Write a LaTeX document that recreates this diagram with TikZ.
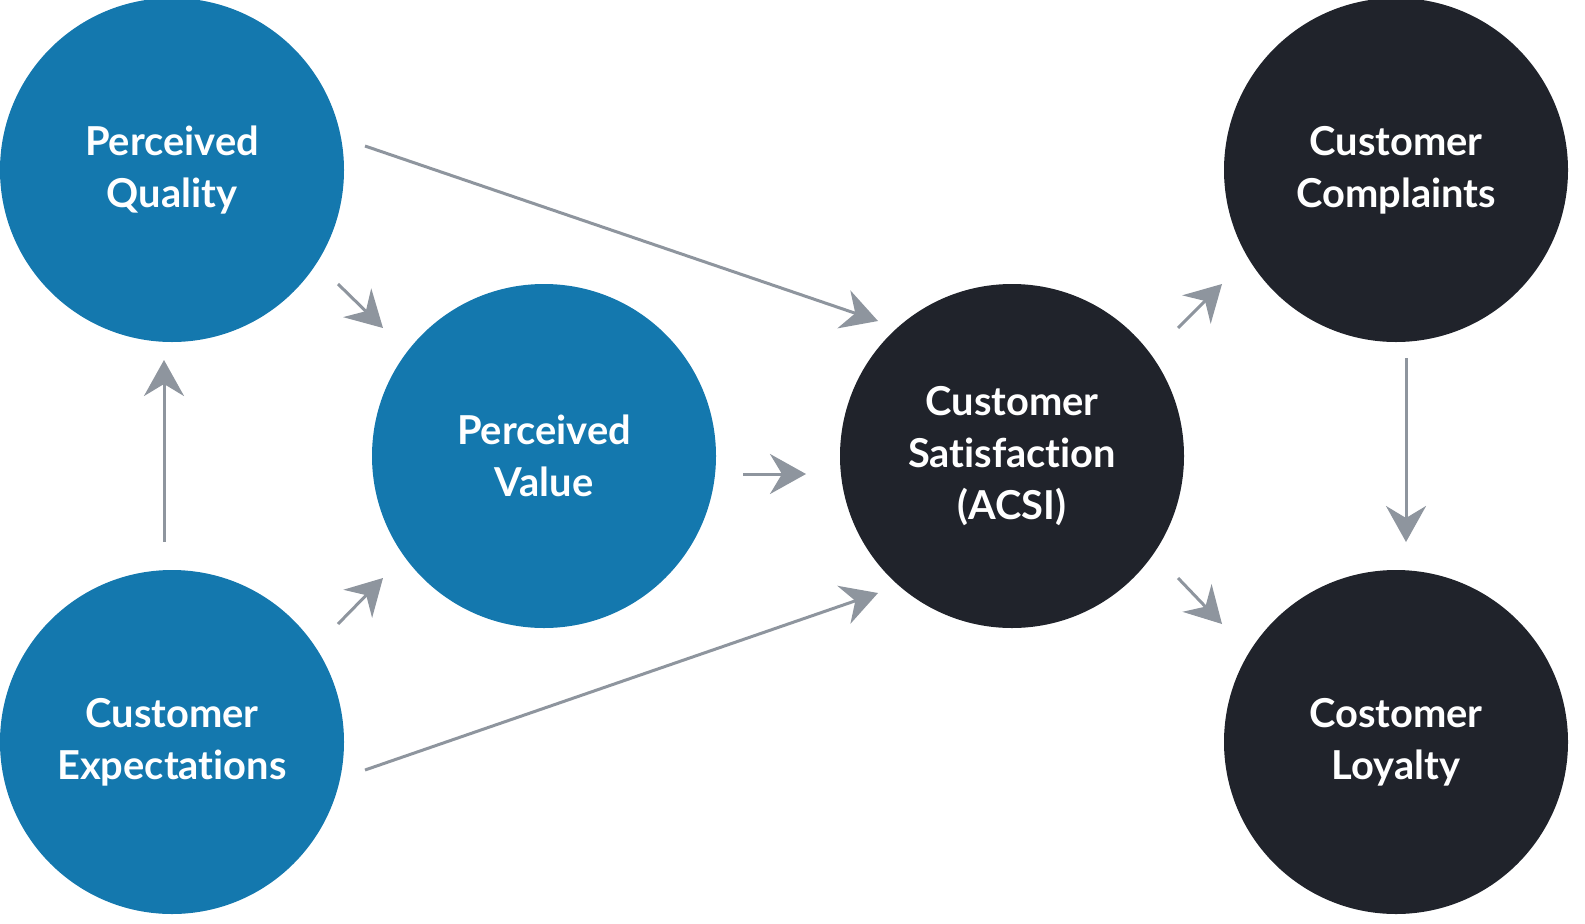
\documentclass[tikz,border=0pt]{standalone}
\usepackage{fontspec}
\setmainfont{Lato}[Ligatures=NoCommon]
\usetikzlibrary{arrows.meta}
\definecolor{cblue}{HTML}{1478AE}
\definecolor{cdark}{HTML}{20232B}
\definecolor{cgray}{HTML}{8E959E}
\begin{document}
\begin{tikzpicture}[x=1bp,y=-1bp,
  circ/.style={circle,minimum size=344bp,inner sep=0pt,text=white,align=center,
    font=\fontsize{40}{52}\selectfont\bfseries},
  blue/.style={circ,fill=cblue},
  dark/.style={circ,fill=cdark},
  arr/.style={draw=cgray,line width=3bp,-{Stealth[length=36bp,width=40bp,inset=12bp]}}]
\useasboundingbox (0,0) rectangle (1585,923);
\node[blue] (pq) at (172,170) {Perceived\\Quality};
\node[blue] (ce) at (172,742) {Customer\\Expectations};
\node[blue] (pv) at (544,456) {Perceived\\Value};
\node[dark] (cs) at (1012,456) {Customer\\Satisfaction\\(ACSI)};
\node[dark] (cc) at (1396,170) {Customer\\Complaints};
\node[dark] (cl) at (1396,742) {Costomer\\Loyalty};
\coordinate (a1) at (164,542); \coordinate (b1) at (164,360);
\coordinate (a2) at (338,284); \coordinate (b2) at (383,328);
\coordinate (a3) at (365,146); \coordinate (b3) at (878,321);
\coordinate (a4) at (338,624); \coordinate (b4) at (383,578);
\coordinate (a5) at (365,770); \coordinate (b5) at (878,593);
\coordinate (a6) at (743,474); \coordinate (b6) at (806,474);
\coordinate (a7) at (1178,328); \coordinate (b7) at (1222,284);
\coordinate (a8) at (1178,578); \coordinate (b8) at (1222,624);
\coordinate (a9) at (1406,358); \coordinate (b9) at (1406,542);
\foreach \i in {1,...,9} \draw[arr] (a\i) -- (b\i);
\end{tikzpicture}
\end{document}
